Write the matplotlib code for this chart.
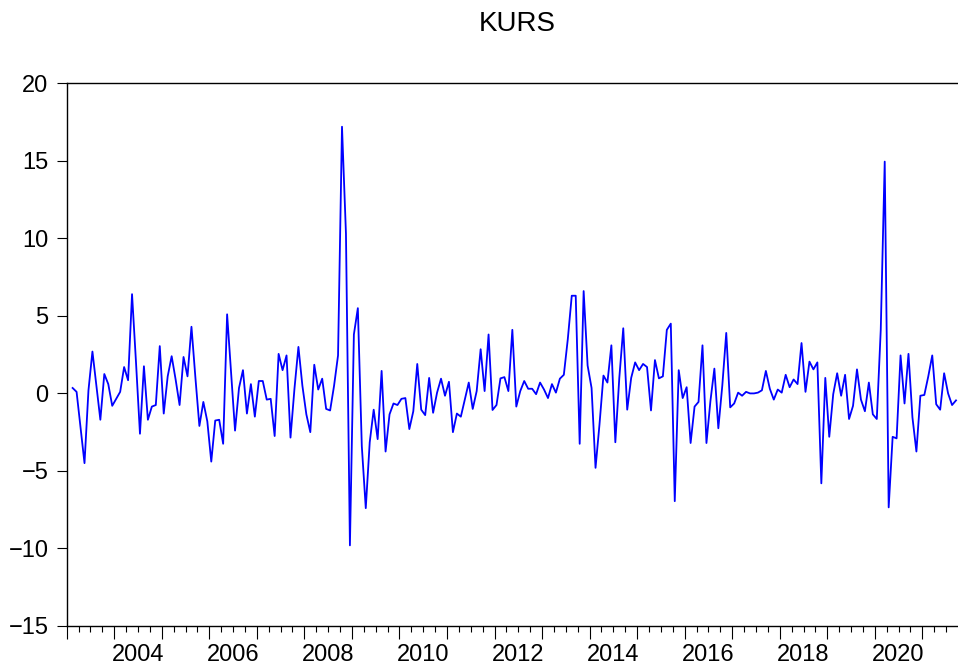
"""KURS monthly series, EViews style line chart"""

import matplotlib
matplotlib.use('Agg')
import matplotlib.pyplot as plt
import numpy as np
import pandas as pd

plt.rcParams['font.family'] = ['Liberation Sans', 'DejaVu Sans']

# monthly observations 2003M02 .. 2021M09
start_month = '2003-02'
end_month = '2021-09'
kurs = [
    0.35, 0.1, -2.2, -4.5, 0.2, 2.7, 0.5, -1.7, 1.25, 0.6,
    -0.8, -0.35, 0.1, 1.7, 0.85, 6.4, 2.0, -2.6, 1.75, -1.7,
    -0.85, -0.75, 3.05, -1.3, 1.1, 2.4, 0.9, -0.75, 2.35, 1.1,
    4.3, 1.0, -2.1, -0.55, -1.8, -4.4, -1.75, -1.7, -3.25, 5.1,
    1.3, -2.4, 0.35, 1.5, -1.3, 0.6, -1.5, 0.8, 0.8, -0.4,
    -0.35, -2.75, 2.55, 1.5, 2.45, -2.85, 0.3, 3.0, 0.5, -1.35,
    -2.5, 1.85, 0.25, 0.95, -1.0, -1.1, 0.5, 2.45, 17.2, 10.3,
    -9.8, 3.8, 5.5, -3.4, -7.4, -3.15, -1.05, -2.95, 1.45, -3.75,
    -1.35, -0.65, -0.75, -0.35, -0.3, -2.3, -1.15, 1.9, -1.05, -1.4,
    1.0, -1.25, 0.05, 0.95, -0.15, 0.75, -2.5, -1.3, -1.5, -0.4,
    0.7, -1.0, 0.15, 2.85, 0.15, 3.8, -1.07, -0.75, 0.97, 1.05,
    0.15, 4.1, -0.85, 0.15, 0.8, 0.3, 0.3, -0.05, 0.7, 0.25,
    -0.3, 0.6, 0.05, 0.95, 1.2, 3.5, 6.3, 6.3, -3.25, 6.6,
    1.8, 0.35, -4.8, -2.0, 1.15, 0.7, 3.1, -3.15, 1.0, 4.2,
    -1.05, 1.0, 2.0, 1.5, 1.9, 1.7, -1.1, 2.15, 0.97, 1.1,
    4.1, 4.5, -6.95, 1.5, -0.3, 0.4, -3.2, -0.85, -0.55, 3.1,
    -3.2, -0.5, 1.6, -2.25, 0.5, 3.9, -0.9, -0.65, 0.05, -0.15,
    0.1, 0.0, 0.0, 0.05, 0.2, 1.45, 0.3, -0.4, 0.25, 0.05,
    1.2, 0.4, 0.9, 0.6, 3.25, 0.1, 2.05, 1.55, 2.0, -5.8,
    1.0, -2.8, -0.05, 1.3, -0.15, 1.2, -1.65, -0.8, 1.55, -0.4,
    -1.15, 0.7, -1.35, -1.65, 4.1, 14.95, -7.35, -2.8, -2.9, 2.45,
    -0.65, 2.55, -1.55, -3.75, -0.15, -0.1, 1.1, 2.45, -0.7, -1.05,
    1.3, 0.0, -0.75, -0.45,
]
y_ticks = [-15, -10, -5, 0, 5, 10, 15, 20]
year_labels = [2004, 2006, 2008, 2010, 2012, 2014, 2016, 2018, 2020]

periods = pd.period_range(start_month, end_month, freq='M')
# each month drawn at its middle, in decimal years
x = periods.year + (periods.month - 0.5) / 12.0

fig = plt.figure(figsize=(9.58, 6.66), dpi=100)
ax = fig.add_axes([0.0696, 0.0601, 0.9304, 0.8148])

ax.plot(x, kurs, color='#0000ff', linewidth=1.3)

ax.set_xlim(2003, 2021.75)
ax.set_ylim(-15, 20)
ax.set_yticks(y_ticks)
ax.tick_params(axis='y', direction='out', length=7.5, width=0.8,
               labelsize=17, pad=5.5)

# year ticks long, quarter ticks short, labels sit in the middle of the year
ax.set_xticks(np.arange(2003, 2022), labels=[])
ax.set_xticks(np.arange(2003, 2021.6, 0.25), minor=True)
ax.tick_params(axis='x', which='major', direction='out', length=9, width=0.8)
ax.tick_params(axis='x', which='minor', direction='out', length=4.5, width=0.8)
for yr in year_labels:
    ax.text(yr + 0.5, -0.0533, str(yr), transform=ax.get_xaxis_transform(),
            ha='center', va='center', fontsize=17)

ax.spines['right'].set_visible(False)
for side in ['left', 'bottom', 'top']:
    ax.spines[side].set_linewidth(1.0)

fig.text(517.5 / 958, 1 - 23.7 / 666, 'KURS', ha='center', va='center',
         fontsize=20)

plt.savefig('out.png', dpi=100)
plt.close()
